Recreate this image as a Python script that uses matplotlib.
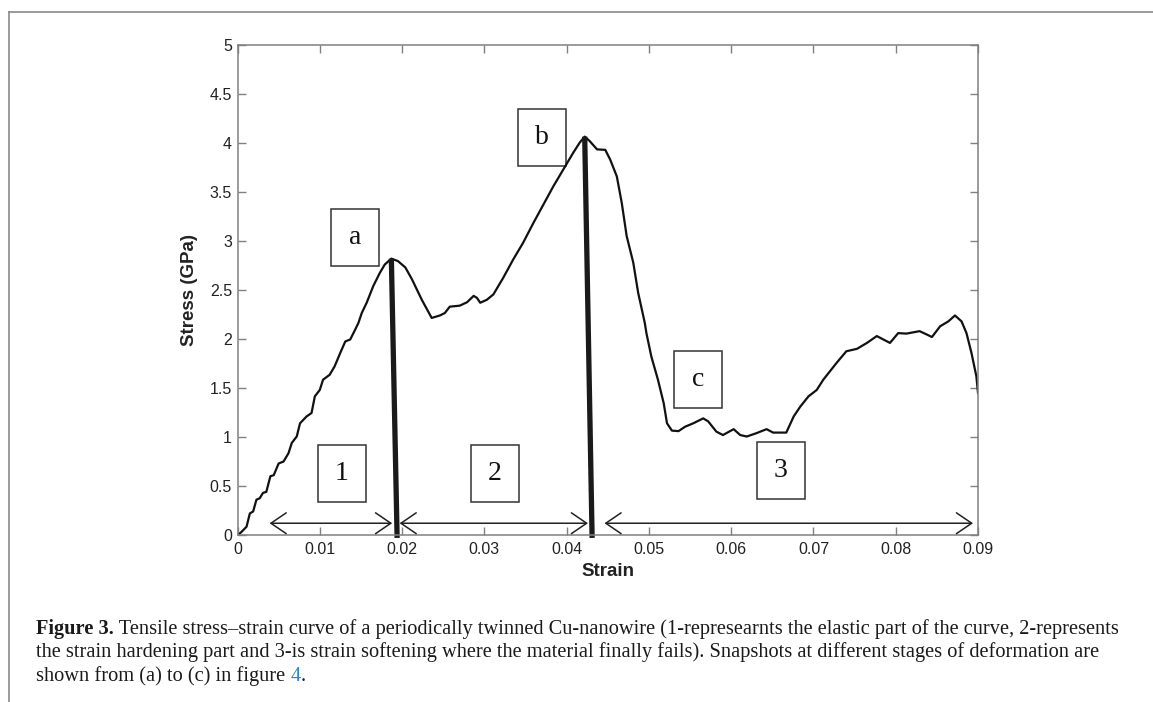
import matplotlib
matplotlib.use("Agg")
import matplotlib.pyplot as plt
from matplotlib.patches import Rectangle
from matplotlib.lines import Line2D

# stress-strain curve
strain = [0.0, 0.0003, 0.0007, 0.0011, 0.0015, 0.0019, 0.0023, 0.0027, 0.0031, 0.0035,
          0.0040, 0.0044, 0.0050, 0.0056, 0.0062, 0.0066, 0.0072, 0.0076, 0.0084, 0.0090,
          0.0094, 0.0100, 0.0104, 0.0112, 0.0118, 0.0125, 0.0131, 0.0137, 0.0143, 0.0147,
          0.0151, 0.0157, 0.0165, 0.0173, 0.0179, 0.0187, 0.0195, 0.0204, 0.0212, 0.0224,
          0.0236, 0.0246, 0.0252, 0.0258, 0.0270, 0.0279, 0.0287, 0.0291, 0.0295, 0.0303,
          0.0311, 0.0323, 0.0335, 0.0347, 0.0360, 0.0372, 0.0384, 0.0396, 0.0408, 0.0416,
          0.0422, 0.0428, 0.0437, 0.0447, 0.0453, 0.0461, 0.0467, 0.0473, 0.0481, 0.0487,
          0.0495, 0.0497, 0.0503, 0.0511, 0.0518, 0.0522, 0.0528, 0.0536, 0.0544, 0.0554,
          0.0566, 0.0572, 0.0582, 0.0590, 0.0603, 0.0611, 0.0619, 0.0631, 0.0643, 0.0651,
          0.0667, 0.0676, 0.0684, 0.0694, 0.0704, 0.0712, 0.0728, 0.0740, 0.0753, 0.0765,
          0.0777, 0.0785, 0.0793, 0.0803, 0.0813, 0.0829, 0.0838, 0.0844, 0.0854, 0.0864,
          0.0872, 0.0880, 0.0886, 0.0892, 0.0898, 0.0900]
stress = [0.0, 0.017, 0.05, 0.085, 0.22, 0.24, 0.36, 0.375, 0.43, 0.44,
          0.60, 0.61, 0.73, 0.75, 0.835, 0.94, 1.005, 1.14, 1.21, 1.245,
          1.415, 1.48, 1.585, 1.635, 1.72, 1.86, 1.975, 1.995, 2.095, 2.165,
          2.265, 2.37, 2.54, 2.675, 2.76, 2.82, 2.795, 2.73, 2.61, 2.40,
          2.215, 2.24, 2.265, 2.33, 2.34, 2.375, 2.44, 2.42, 2.37, 2.40,
          2.455, 2.625, 2.81, 2.98, 3.19, 3.375, 3.56, 3.73, 3.90, 4.005,
          4.065, 4.02, 3.935, 3.93, 3.83, 3.66, 3.39, 3.05, 2.78, 2.47,
          2.165, 2.06, 1.82, 1.585, 1.345, 1.14, 1.065, 1.06, 1.105, 1.14,
          1.19, 1.16, 1.055, 1.02, 1.08, 1.02, 1.005, 1.04, 1.08, 1.045,
          1.045, 1.21, 1.31, 1.415, 1.48, 1.585, 1.755, 1.875, 1.90, 1.96,
          2.03, 1.995, 1.96, 2.06, 2.055, 2.08, 2.045, 2.02, 2.13, 2.18,
          2.24, 2.18, 2.06, 1.86, 1.62, 1.45]

# stage markers (thick slanted lines from the peaks down to the axis)
marker_top_x = [0.0187, 0.0422]
marker_top_y = [2.82, 4.065]
marker_bot_x = [0.0194, 0.0431]

# region arrows
arrow_start = [0.0039, 0.0197, 0.0446]
arrow_end = [0.0188, 0.0426, 0.0894]
arrow_level = 0.12

box_labels = ["1", "2", "3", "a", "b", "c"]

xticks = [0, 0.01, 0.02, 0.03, 0.04, 0.05, 0.06, 0.07, 0.08, 0.09]
xticklabels = ["0", "0.01", "0.02", "0.03", "0.04", "0.05", "0.06", "0.07", "0.08", "0.09"]
yticks = [0, 0.5, 1, 1.5, 2, 2.5, 3, 3.5, 4, 4.5, 5]
yticklabels = ["0", "0.5", "1", "1.5", "2", "2.5", "3", "3.5", "4", "4.5", "5"]

W, H = 1153, 702
fig = plt.figure(figsize=(W / 100, H / 100), dpi=100)
ax = fig.add_axes([237.5 / W, 1 - 535 / H, 740.5 / W, 490 / H])

ax.plot(strain, stress, color="#111111", lw=1.6, solid_joinstyle="round")

for x0, y0, x1 in zip(marker_top_x, marker_top_y, marker_bot_x):
    ax.plot([x0, x1], [y0, -0.03], color="#1a1a1a", lw=3.8, clip_on=False,
            solid_capstyle="butt")

for a, b in zip(arrow_start, arrow_end):
    ax.annotate("", xy=(b, arrow_level), xytext=(a, arrow_level),
                arrowprops=dict(arrowstyle="<->,head_length=1.1,head_width=0.75",
                                mutation_scale=10, lw=1.1, color="#222222",
                                shrinkA=0, shrinkB=0))

# label boxes: lower-left corner in data units
box_pos = [(0.00978, 0.337), (0.02836, 0.337), (0.0631, 0.368),
           (0.01135, 2.75), (0.03406, 3.77), (0.0531, 1.30)]
bw, bh = 0.00583, 0.58
for lab, (bx, by) in zip(box_labels, box_pos):
    ax.add_patch(Rectangle((bx, by), bw, bh, fill=False, ec="#333333", lw=1.1))
    ax.text(bx + bw / 2, by + bh / 2, lab, ha="center", va="center",
            fontsize=20, family="Liberation Serif", color="#111111")

ax.set_xlim(0, 0.09)
ax.set_ylim(0, 5)
ax.set_xticks(xticks)
ax.set_xticklabels(xticklabels)
ax.set_yticks(yticks)
ax.set_yticklabels(yticklabels)
ax.tick_params(direction="in", length=6, width=1, color="#808080",
               top=True, right=True, labelsize=11.5, labelcolor="#222222")
ax.tick_params(axis="x", pad=5)
ax.tick_params(axis="y", pad=4)
for t in ax.get_xticklabels() + ax.get_yticklabels():
    t.set_family("Liberation Sans")
for s in ax.spines.values():
    s.set_color("#808080")
    s.set_linewidth(1.1)

ax.set_xlabel("Strain", fontsize=13.5, fontweight="bold", family="Liberation Sans",
              color="#222222")
ax.set_ylabel("Stress (GPa)", fontsize=13.5, fontweight="bold", family="Liberation Sans",
              color="#222222")
ax.xaxis.set_label_coords(0.5, -0.057)
ax.yaxis.set_label_coords(-0.053, 0.5)

# page frame
fig.add_artist(Line2D([9 / W, 1], [1 - 12 / H, 1 - 12 / H], color="#8a8a8a", lw=1.2))
fig.add_artist(Line2D([9 / W, 9 / W], [0, 1 - 12 / H], color="#8a8a8a", lw=1.2))

# caption
cap = dict(fontsize=14.7, family="Liberation Serif", color="#1a1a1a")
x0 = 36 / W
t1 = fig.text(x0, 1 - 634 / H, "Figure 3.", fontweight="bold", va="baseline", **cap)
ax.annotate(" Tensile stress\u2013strain curve of a periodically twinned Cu-nanowire "
            "(1-represearnts the elastic part of the curve, 2-represents",
            xy=(1, 0), xycoords=t1, va="bottom", annotation_clip=False, **cap)
fig.text(x0, 1 - 657.5 / H, "the strain hardening part and 3-is strain softening where "
         "the material finally fails). Snapshots at different stages of deformation are",
         va="baseline", **cap)
t3 = fig.text(x0, 1 - 681 / H, "shown from (a) to (c) in figure ", va="baseline", **cap)
t4 = ax.annotate("4", xy=(1, 0), xycoords=t3, va="bottom", annotation_clip=False,
                 fontsize=14.7, family="Liberation Serif", color="#2b88c6")
ax.annotate(".", xy=(1, 0), xycoords=t4, va="bottom", annotation_clip=False, **cap)

fig.savefig("out.png", dpi=100)
